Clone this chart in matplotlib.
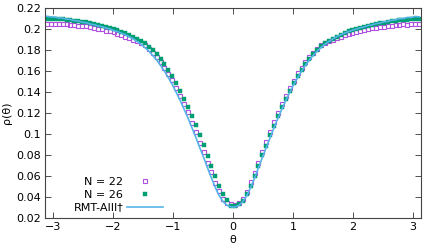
import numpy as np
import matplotlib
matplotlib.use('Agg')
import matplotlib.pyplot as plt

# bin centres on [-pi, pi], 96 bins
nbins = 96
theta = (np.arange(nbins) + 0.5) * 2 * np.pi / nbins - np.pi

# RMT-AIII curve, left half (theta<0) then right half (theta>0)
rmt_left = [0.2121, 0.2115, 0.2114, 0.2105, 0.2104, 0.2094, 0.2091, 0.2080, 0.2076, 0.2064,
            0.2060, 0.2047, 0.2042, 0.2029, 0.2023, 0.2009, 0.2002, 0.1986, 0.1976, 0.1960,
            0.1946, 0.1926, 0.1907, 0.1881, 0.1856, 0.1823, 0.1790, 0.1748, 0.1705, 0.1653,
            0.1599, 0.1536, 0.1471, 0.1396, 0.1321, 0.1237, 0.1153, 0.1061, 0.0969, 0.0871,
            0.0777, 0.0677, 0.0581, 0.0489, 0.0411, 0.0354, 0.0321, 0.0305]
rmt_right = [0.0305, 0.0320, 0.0355, 0.0410, 0.0490, 0.0580, 0.0678, 0.0776, 0.0872, 0.0968,
             0.1062, 0.1152, 0.1238, 0.1320, 0.1397, 0.1470, 0.1537, 0.1598, 0.1654, 0.1704,
             0.1749, 0.1789, 0.1824, 0.1855, 0.1882, 0.1906, 0.1927, 0.1945, 0.1961, 0.1975,
             0.1988, 0.2000, 0.2012, 0.2020, 0.2033, 0.2039, 0.2051, 0.2057, 0.2068, 0.2073,
             0.2084, 0.2087, 0.2099, 0.2100, 0.2110, 0.2109, 0.2119, 0.2116]

# N = 26
n26_left = [0.2098, 0.2095, 0.2096, 0.2092, 0.2093, 0.2087, 0.2085, 0.2078, 0.2074, 0.2068,
            0.2063, 0.2056, 0.2047, 0.2040, 0.2031, 0.2021, 0.2011, 0.2000, 0.1986, 0.1975,
            0.1962, 0.1944, 0.1926, 0.1906, 0.1889, 0.1862, 0.1833, 0.1799, 0.1758, 0.1716,
            0.1667, 0.1614, 0.1551, 0.1486, 0.1412, 0.1338, 0.1256, 0.1172, 0.1081, 0.0988,
            0.0892, 0.0795, 0.0698, 0.0600, 0.0509, 0.0428, 0.0367, 0.0318]
n26_right = [0.0315, 0.0330, 0.0366, 0.0430, 0.0508, 0.0602, 0.0697, 0.0797, 0.0890, 0.0990,
             0.1080, 0.1173, 0.1255, 0.1336, 0.1413, 0.1484, 0.1553, 0.1612, 0.1668, 0.1714,
             0.1760, 0.1797, 0.1834, 0.1863, 0.1890, 0.1908, 0.1925, 0.1946, 0.1960, 0.1977,
             0.1987, 0.2002, 0.2010, 0.2023, 0.2030, 0.2041, 0.2045, 0.2054, 0.2060, 0.2066,
             0.2072, 0.2077, 0.2083, 0.2086, 0.2090, 0.2093, 0.2095, 0.2096]

# N = 22
n22_left = [0.2049, 0.2050, 0.2046, 0.2051, 0.2044, 0.2046, 0.2040, 0.2042, 0.2033, 0.2030,
            0.2027, 0.2018, 0.2013, 0.2001, 0.1997, 0.1984, 0.1977, 0.1967, 0.1951, 0.1944,
            0.1924, 0.1915, 0.1899, 0.1882, 0.1870, 0.1844, 0.1812, 0.1768, 0.1735, 0.1683,
            0.1632, 0.1575, 0.1511, 0.1437, 0.1365, 0.1283, 0.1206, 0.1108, 0.1023, 0.0918,
            0.0831, 0.0725, 0.0635, 0.0537, 0.0455, 0.0383, 0.0345, 0.0330]
n22_right = [0.0328, 0.0342, 0.0385, 0.0452, 0.0540, 0.0632, 0.0728, 0.0828, 0.0921, 0.1020,
             0.1111, 0.1203, 0.1286, 0.1362, 0.1440, 0.1508, 0.1578, 0.1629, 0.1686, 0.1732,
             0.1771, 0.1808, 0.1843, 0.1866, 0.1884, 0.1897, 0.1919, 0.1926, 0.1941, 0.1952,
             0.1962, 0.1973, 0.1978, 0.1990, 0.1996, 0.2005, 0.2008, 0.2017, 0.2020, 0.2027,
             0.2030, 0.2036, 0.2038, 0.2043, 0.2040, 0.2047, 0.2045, 0.2052]

rmt = rmt_left + rmt_right
n26 = n26_left + n26_right
n22 = n22_left + n22_right

xticks = [-3, -2, -1, 0, 1, 2, 3]
yticks = [0.02, 0.04, 0.06, 0.08, 0.1, 0.12, 0.14, 0.16, 0.18, 0.2, 0.22]
yticklabels = ['0.02', '0.04', '0.06', '0.08', '0.1', '0.12', '0.14', '0.16', '0.18', '0.2', '0.22']

plt.rcParams['font.family'] = 'DejaVu Sans'
plt.rcParams['font.size'] = 8

fig = plt.figure(figsize=(4.36, 2.48), dpi=100)
ax = fig.add_axes([45/436, 30/248, 376/436, 210/248])

ax.plot(theta, n22, ls='none', marker='s', ms=3.0, mfc='none', mec='#b050e0', mew=0.8, label='N = 22')
ax.plot(theta, n26, ls='none', marker='s', ms=2.5, mfc='#009e73', mec='#009e73', mew=0.3, label='N = 26')
ax.plot(theta, rmt, '-', color='#56b4e9', lw=1.2, label='RMT-AIII\u2020')

ax.set_xlim(-np.pi, np.pi)
ax.set_ylim(0.02, 0.22)
ax.set_xticks(xticks)
ax.set_yticks(yticks)
ax.set_yticklabels(yticklabels)
ax.tick_params(direction='in', top=True, right=True, length=4, width=0.6, colors='#333333', labelcolor='black', pad=3)
for s in ax.spines.values():
    s.set_linewidth(0.8)
    s.set_color('#444444')

ax.set_xlabel('\u03b8', labelpad=2)
ax.set_ylabel('\u03c1(\u03b8)', labelpad=3)

ax.legend(loc='lower left', bbox_to_anchor=(0.07, 0.015), frameon=False, markerfirst=False,
          handlelength=3.3, handletextpad=0.3, labelspacing=0.25, borderpad=0.2,
          borderaxespad=0, fontsize=8)

fig.savefig('out.png', dpi=100)
